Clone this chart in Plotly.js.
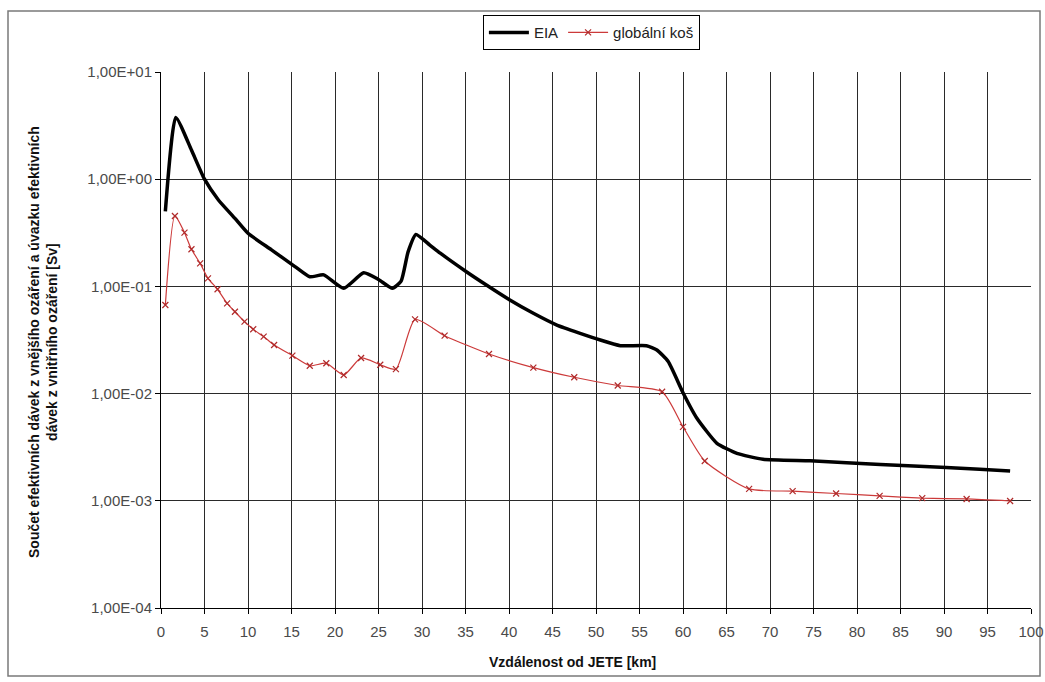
<!DOCTYPE html>
<html>
<head>
<meta charset="utf-8">
<script src="https://cdn.plot.ly/plotly-3.0.1.min.js"></script>
<style>
  html, body { margin: 0; padding: 0; background: #ffffff; }
  #chart { width: 1045px; height: 682px; }
</style>
</head>
<body>
<div id="chart"></div>
<script>
// Distance from the plant [km] and summed effective dose [Sv]
const eiaKm = [0.5, 1.7, 3.5, 5.0, 6.6, 8.5, 10.0, 12.7, 15.4, 17.1, 18.7, 21.0, 23.3, 25.0, 26.6, 27.6, 28.4, 29.3, 30.9, 32.1, 35.1, 37.4, 40.1, 42.8, 45.5, 50.5, 52.8, 55.8, 57.0, 58.3, 60.0, 61.6, 63.9, 66.2, 69.2, 74.6, 78.8, 86.5, 94.1, 97.6];
const eiaDose = [0.5, 3.77, 1.87, 1.0, 0.64, 0.431, 0.313, 0.219, 0.153, 0.123, 0.128, 0.096, 0.134, 0.116, 0.096, 0.112, 0.21, 0.305, 0.243, 0.204, 0.137, 0.103, 0.0747, 0.0561, 0.0436, 0.0316, 0.028, 0.028, 0.0255, 0.0199, 0.0102, 0.00589, 0.00344, 0.00277, 0.00244, 0.00236, 0.00226, 0.00211, 0.00197, 0.0019];

const kosKm = [0.5, 1.6, 2.7, 3.5, 4.5, 5.4, 6.5, 7.6, 8.5, 9.6, 10.6, 11.8, 13.0, 15.1, 17.1, 19.0, 21.0, 23.0, 25.2, 27.0, 29.2, 32.6, 37.7, 42.8, 47.5, 52.5, 57.6, 60.0, 62.5, 67.6, 72.6, 77.6, 82.6, 87.5, 92.6, 97.6];
const kosDose = [0.067, 0.454, 0.317, 0.222, 0.164, 0.119, 0.094, 0.0695, 0.058, 0.0469, 0.0398, 0.034, 0.0284, 0.0226, 0.0182, 0.0192, 0.0149, 0.0215, 0.0186, 0.0169, 0.0493, 0.0347, 0.0234, 0.0175, 0.0142, 0.0119, 0.0104, 0.0049, 0.00235, 0.00129, 0.00123, 0.00117, 0.00111, 0.00106, 0.00104, 0.000996];

const seriesNames = ['EIA', 'globální koš'];
const yTickVals = [1e-4, 1e-3, 1e-2, 1e-1, 1e0, 1e1];
const yTickText = ['1,00E-04', '1,00E-03', '1,00E-02', '1,00E-01', '1,00E+00', '1,00E+01'];
const xTitle = 'Vzdálenost od JETE [km]';
const yTitle = 'Součet efektivních dávek z vnějšího ozáření a úvazku efektivních<br>dávek z vnitřního ozáření [Sv]';

const tickFont = { family: 'Liberation Sans, Arial, sans-serif', size: 15, color: '#4a4a4a' };
const titleFont = { family: 'Liberation Sans Narrow, Arial Narrow, Liberation Sans, sans-serif', size: 14, color: '#111111', weight: 'bold' };

const traces = [
  {
    x: eiaKm, y: eiaDose, name: seriesNames[0], type: 'scatter', mode: 'lines',
    line: { color: '#000000', width: 3.5, shape: 'spline', smoothing: 0.5 }
  },
  {
    x: kosKm, y: kosDose, name: seriesNames[1], type: 'scatter', mode: 'lines+markers',
    line: { color: '#cc3a3a', width: 1.2, shape: 'spline', smoothing: 0.6 },
    marker: { symbol: 'x-thin', size: 6, color: '#b02a2a', line: { color: '#b02a2a', width: 1.2 } }
  }
];

const layout = {
  width: 1045, height: 682,
  margin: { l: 161, r: 14, t: 72, b: 74 },
  paper_bgcolor: '#ffffff', plot_bgcolor: '#ffffff',
  showlegend: true,
  legend: {
    orientation: 'h', x: 0.37, xanchor: 'left', y: 1.106, yanchor: 'top',
    bordercolor: '#000000', borderwidth: 1, bgcolor: '#ffffff',
    font: { family: 'Liberation Sans, Arial, sans-serif', size: 15, color: '#222222' },
    itemwidth: 40, tracegroupgap: 0
  },
  xaxis: {
    range: [0, 100], dtick: 5, tick0: 0,
    showgrid: true, gridcolor: '#2a2a2a', gridwidth: 1,
    showline: true, linecolor: '#000000', linewidth: 1,
    ticks: 'outside', ticklen: 5, tickcolor: '#000000', ticklabelstandoff: 5,
    tickfont: tickFont, zeroline: false, fixedrange: true
  },
  yaxis: {
    type: 'log', range: [-4, 1],
    tickvals: yTickVals, ticktext: yTickText,
    showgrid: true, gridcolor: '#2a2a2a', gridwidth: 1,
    showline: true, linecolor: '#000000', linewidth: 1,
    ticks: 'outside', ticklen: 5, tickcolor: '#000000',
    tickfont: tickFont, zeroline: false, fixedrange: true
  },
  annotations: [
    {
      text: xTitle, xref: 'paper', yref: 'paper',
      x: (572 - 161) / 870, y: -0.101, xanchor: 'center', yanchor: 'middle',
      showarrow: false, font: titleFont
    },
    {
      text: yTitle, xref: 'paper', yref: 'paper',
      x: (43 - 161) / 870, y: (608 - 342) / 536, xanchor: 'center', yanchor: 'middle',
      textangle: -90, showarrow: false, font: titleFont, align: 'center'
    }
  ],
  shapes: [
    {
      type: 'rect', xref: 'paper', yref: 'paper',
      x0: (8 - 161) / 870, x1: (1040 - 161) / 870,
      y0: (608 - 676) / 536, y1: (608 - 11) / 536,
      line: { color: '#7a7a7a', width: 1.5 }, fillcolor: 'rgba(0,0,0,0)', layer: 'below'
    }
  ]
};

Plotly.newPlot('chart', traces, layout, { displayModeBar: false, staticPlot: true });
</script>
</body>
</html>
